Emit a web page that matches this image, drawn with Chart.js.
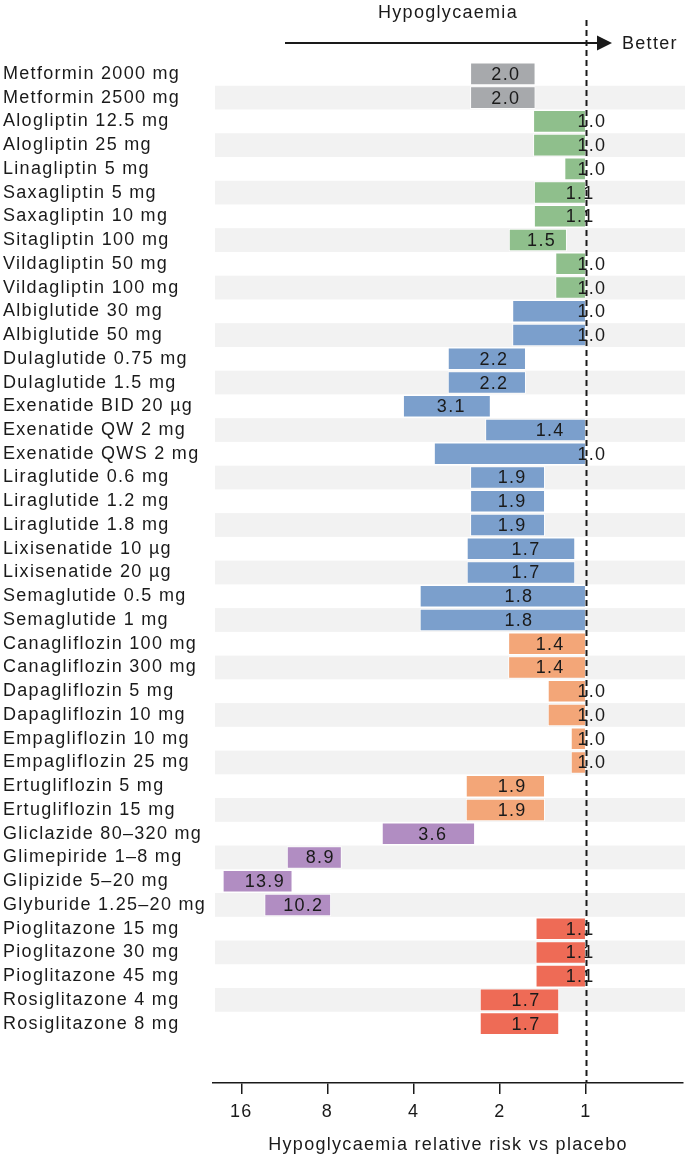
<!DOCTYPE html>
<html>
<head>
<meta charset="utf-8">
<script src="https://cdn.jsdelivr.net/npm/chart.js@4/dist/chart.umd.min.js"></script>
<style>
  html, body { margin: 0; padding: 0; background: #fff; }
  #wrap { width: 685px; height: 1156px; position: relative; }
</style>
</head>
<body>
<div id="wrap"><canvas id="chart"></canvas></div>
<script>
// ── Date ──────────────────────────────────────────────
const DRUGS = [
  'Metformin 2000 mg', 'Metformin 2500 mg',
  'Alogliptin 12.5 mg', 'Alogliptin 25 mg', 'Linagliptin 5 mg',
  'Saxagliptin 5 mg', 'Saxagliptin 10 mg', 'Sitagliptin 100 mg',
  'Vildagliptin 50 mg', 'Vildagliptin 100 mg',
  'Albiglutide 30 mg', 'Albiglutide 50 mg', 'Dulaglutide 0.75 mg', 'Dulaglutide 1.5 mg',
  'Exenatide BID 20 µg', 'Exenatide QW 2 mg', 'Exenatide QWS 2 mg',
  'Liraglutide 0.6 mg', 'Liraglutide 1.2 mg', 'Liraglutide 1.8 mg',
  'Lixisenatide 10 µg', 'Lixisenatide 20 µg', 'Semaglutide 0.5 mg', 'Semaglutide 1 mg',
  'Canagliflozin 100 mg', 'Canagliflozin 300 mg', 'Dapagliflozin 5 mg', 'Dapagliflozin 10 mg',
  'Empagliflozin 10 mg', 'Empagliflozin 25 mg', 'Ertugliflozin 5 mg', 'Ertugliflozin 15 mg',
  'Gliclazide 80–320 mg', 'Glimepiride 1–8 mg', 'Glipizide 5–20 mg', 'Glyburide 1.25–20 mg',
  'Pioglitazone 15 mg', 'Pioglitazone 30 mg', 'Pioglitazone 45 mg',
  'Rosiglitazone 4 mg', 'Rosiglitazone 8 mg',
];

const CLASSES = [
  'met', 'met',
  'dpp4', 'dpp4', 'dpp4', 'dpp4', 'dpp4', 'dpp4', 'dpp4', 'dpp4',
  'glp1', 'glp1', 'glp1', 'glp1', 'glp1', 'glp1', 'glp1',
  'glp1', 'glp1', 'glp1', 'glp1', 'glp1', 'glp1', 'glp1',
  'sglt2', 'sglt2', 'sglt2', 'sglt2', 'sglt2', 'sglt2', 'sglt2', 'sglt2',
  'su', 'su', 'su', 'su',
  'tzd', 'tzd', 'tzd', 'tzd', 'tzd',
];

// capatul din dreapta al barei (risc mic)
const LOWER = [
  1.50, 1.50,
  1.00, 1.00, 1.00, 1.00, 1.00, 1.165, 1.00, 1.00,
  1.00, 1.00, 1.62, 1.62, 2.15, 1.00, 1.00,
  1.39, 1.39, 1.39, 1.09, 1.09, 1.00, 1.00,
  1.00, 1.00, 1.00, 1.00, 1.00, 1.00, 1.39, 1.39,
  2.44, 7.13, 10.6, 7.77,
  1.00, 1.00, 1.00, 1.24, 1.24,
];

// capatul din stanga al barei (risc mare)
const UPPER = [
  2.54, 2.54,
  1.53, 1.53, 1.19, 1.52, 1.52, 1.86, 1.28, 1.28,
  1.81, 1.81, 3.04, 3.04, 4.36, 2.25, 3.40,
  2.54, 2.54, 2.54, 2.61, 2.61, 3.81, 3.81,
  1.87, 1.87, 1.36, 1.36, 1.13, 1.13, 2.63, 2.63,
  5.17, 11.1, 18.6, 13.3,
  1.50, 1.50, 1.50, 2.35, 2.35,
];

// valoarea afisata pe bara
const ESTIMATE = [
  2.0, 2.0,
  1.0, 1.0, 1.0, 1.1, 1.1, 1.5, 1.0, 1.0,
  1.0, 1.0, 2.2, 2.2, 3.1, 1.4, 1.0,
  1.9, 1.9, 1.9, 1.7, 1.7, 1.8, 1.8,
  1.4, 1.4, 1.0, 1.0, 1.0, 1.0, 1.9, 1.9,
  3.6, 8.9, 13.9, 10.2,
  1.1, 1.1, 1.1, 1.7, 1.7,
];

const X_TICKS = [16, 8, 4, 2, 1];

const COLORS = {
  met:   '#a7a9ac',
  dpp4:  '#8fbf8c',
  glp1:  '#7b9fcc',
  sglt2: '#f3a678',
  su:    '#b18dc2',
  tzd:   '#ee6b56',
  text:  '#1a1a1a',
  band:  '#f2f2f2',
};

const FONT = 'Liberation Sans, Arial, Helvetica, sans-serif';
const SPACING = '1.3px';
const N_ROWS = 43;   // 41 randuri + spatiu gol jos

// ── Plugin: letter spacing (Helvetica cu tracking) ──
const spacingPlugin = {
  id: 'spacing',
  beforeLayout(chart) { chart.ctx.letterSpacing = SPACING; },
  beforeDraw(chart)   { chart.ctx.letterSpacing = SPACING; },
};

// ── Plugin: benzi gri pe randurile impare ──
const bandsPlugin = {
  id: 'bands',
  beforeDatasetsDraw(chart) {
    const { ctx, chartArea, scales: { y } } = chart;
    ctx.save();
    ctx.fillStyle = COLORS.band;
    DRUGS.forEach((_, i) => {
      if (i % 2 === 0) return;
      const a = y.getPixelForValue(i - 0.5);
      const b = y.getPixelForValue(i + 0.5);
      ctx.fillRect(chartArea.left + 2, Math.min(a, b), chart.width - chartArea.left - 2, Math.abs(b - a));
    });
    ctx.restore();
  },
};

// ── Plugin: linie punctata la 1, sageata, etichete ──
const overlayPlugin = {
  id: 'overlay',
  afterDatasetsDraw(chart) {
    const { ctx, chartArea, scales: { x, y } } = chart;
    ctx.save();

    // linia de referinta RR = 1
    const x1 = Math.round(x.getPixelForValue(1)) + 0.5;
    ctx.strokeStyle = COLORS.text;
    ctx.lineWidth = 2;
    ctx.setLineDash([6, 4]);
    ctx.beginPath();
    ctx.moveTo(x1, 20);
    ctx.lineTo(x1, chartArea.bottom);
    ctx.stroke();
    ctx.setLineDash([]);

    // valorile pe bare
    ctx.fillStyle = COLORS.text;
    ctx.font = `18px ${FONT}`;
    ctx.textAlign = 'center';
    ctx.textBaseline = 'middle';
    ESTIMATE.forEach((v, i) => {
      ctx.fillText(v.toFixed(1), x.getPixelForValue(v) + 6, y.getPixelForValue(i) + 1);
    });

    // titlu sus + sageata "Better"
    const midX = (chartArea.left + chartArea.right) / 2;
    ctx.fillText('Hypoglycaemia', midX, 13);

    const ay = 43;
    ctx.lineWidth = 2;
    ctx.beginPath();
    ctx.moveTo(285, ay);
    ctx.lineTo(600, ay);
    ctx.stroke();
    ctx.beginPath();
    ctx.moveTo(612, ay);
    ctx.lineTo(597, ay - 7.5);
    ctx.lineTo(597, ay + 7.5);
    ctx.closePath();
    ctx.fill();
    ctx.textAlign = 'left';
    ctx.fillText('Better', 622, ay + 1);

    ctx.restore();
  },
};

const ctx = document.getElementById('chart').getContext('2d');

new Chart(ctx, {
  type: 'bar',
  data: {
    datasets: [{
      data: DRUGS.map((_, i) => ({ x: [LOWER[i], UPPER[i]], y: i })),
      backgroundColor: CLASSES.map(c => COLORS[c]),
      borderColor: 'rgba(255,255,255,0.85)',
      borderWidth: 1,
      borderSkipped: false,
      barPercentage: 0.95,
      categoryPercentage: 1,
    }],
  },
  options: {
    indexAxis: 'y',
    responsive: true,
    maintainAspectRatio: false,
    animation: false,
    layout: { padding: { top: 62, left: 3, right: 2, bottom: 0 } },
    plugins: {
      legend:  { display: false },
      tooltip: { enabled: false },
    },
    scales: {
      x: {
        type: 'logarithmic',
        reverse: true,
        min: 0.458,
        max: 20.1,
        afterBuildTicks: s => { s.ticks = X_TICKS.map(v => ({ value: v })); },
        afterFit: s => { s.height = 73; s.paddingLeft = 0; s.paddingRight = 0; },
        ticks: {
          color: COLORS.text,
          font: { family: FONT, size: 18 },
          padding: 7,
          maxRotation: 0,
          autoSkip: false,
          callback: v => String(v),
        },
        grid: {
          drawOnChartArea: false,
          drawTicks: true,
          tickLength: 11,
          color: COLORS.text,
          lineWidth: 1.5,
        },
        border: { display: true, color: COLORS.text, width: 1.5 },
        title: {
          display: true,
          text: 'Hypoglycaemia relative risk vs placebo',
          color: COLORS.text,
          font: { family: FONT, size: 18 },
          padding: { top: 0, bottom: 0 },
        },
      },
      y: {
        type: 'linear',
        reverse: true,
        offset: false,
        min: -0.5,
        max: N_ROWS - 0.5,
        afterBuildTicks: s => { s.ticks = DRUGS.map((_, i) => ({ value: i })); },
        afterFit: s => { s.width = 210; s.paddingTop = 0; s.paddingBottom = 0; },
        ticks: {
          color: COLORS.text,
          font: { family: FONT, size: 18 },
          crossAlign: 'far',
          autoSkip: false,
          callback: v => DRUGS[v] ?? '',
        },
        grid:   { display: false },
        border: { display: false },
      },
    },
  },
  plugins: [spacingPlugin, bandsPlugin, overlayPlugin],
});
</script>
</body>
</html>
